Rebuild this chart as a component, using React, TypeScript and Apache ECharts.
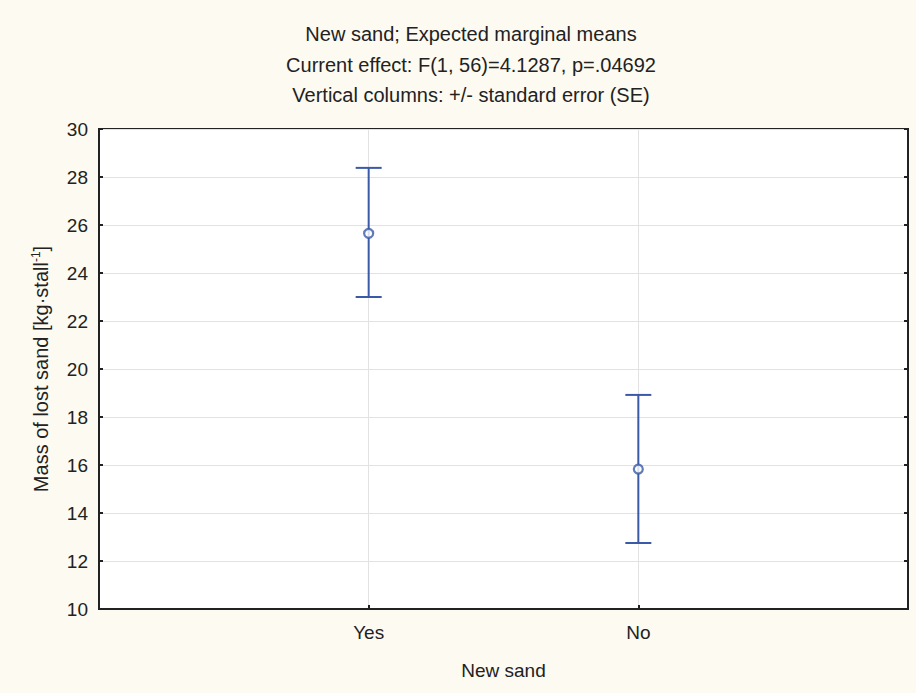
import React, { useEffect, useRef } from "react";
import * as echarts from "echarts";

const categories = ["Yes", "No"];
const means = [25.65, 15.83];
const lowerSE = [23.0, 12.75];
const upperSE = [28.38, 18.92];
const yTicks = [10, 30, 2]; // min, max, interval
const titleLines = [
  "New sand; Expected marginal means",
  "Current effect: F(1, 56)=4.1287, p=.04692",
  "Vertical columns: +/- standard error (SE)",
];

const FONT = "'Liberation Sans', Arial, sans-serif";
const BLUE = "#3a5aa8";
const TXT = "#222";

export default function App() {
  const ref = useRef<HTMLDivElement>(null);
  useEffect(() => {
    if (!ref.current) return;
    const chart = echarts.init(ref.current, null, { renderer: "svg" });
    const axisCats = ["", ...categories, ""];
    const errData = categories.map((c, i) => [c, lowerSE[i], upperSE[i]]);
    chart.setOption({
      animation: false,
      backgroundColor: "#fdfaf1",
      textStyle: { fontFamily: FONT },
      graphic: titleLines.map((t, i) => ({
        type: "text",
        x: 471,
        y: 34 + i * 30.5,
        style: {
          text: t,
          fontFamily: FONT,
          fontSize: 20,
          fill: TXT,
          textAlign: "center",
          textVerticalAlign: "middle",
        },
      })),
      grid: {
        left: 99,
        right: 8,
        top: 129,
        bottom: 84,
        show: true,
        backgroundColor: "#ffffff",
        borderColor: TXT,
        borderWidth: 2,
      },
      xAxis: {
        type: "category",
        data: axisCats,
        boundaryGap: false,
        name: "New sand",
        nameLocation: "middle",
        nameGap: 52,
        nameTextStyle: { fontSize: 19, color: TXT, fontFamily: FONT },
        axisLine: { lineStyle: { color: TXT, width: 2 } },
        axisTick: { inside: true, length: 4, lineStyle: { color: TXT, width: 2 } },
        axisLabel: { fontSize: 19, color: TXT, margin: 14, fontFamily: FONT },
        splitLine: { show: true, lineStyle: { color: "#e2e2e2", width: 1 } },
      },
      yAxis: [
        {
          type: "value",
          min: yTicks[0],
          max: yTicks[1],
          interval: yTicks[2],
          name: "{a|Mass of lost sand [kg·stall}{s|-1}{a|]}",
          nameLocation: "middle",
          nameGap: 47,
          nameTextStyle: {
            rich: {
              a: { fontSize: 20, color: TXT, fontFamily: FONT, lineHeight: 22 },
              s: { fontSize: 12, color: TXT, fontFamily: FONT, verticalAlign: "top", lineHeight: 22 },
            },
          },
          axisLine: { show: true, lineStyle: { color: TXT, width: 2 } },
          axisTick: { show: true, inside: true, length: 4, lineStyle: { color: TXT, width: 2 } },
          axisLabel: { fontSize: 19, color: TXT, margin: 11, fontFamily: FONT },
          splitLine: { show: true, lineStyle: { color: "#e2e2e2", width: 1 } },
        },
        {
          type: "value",
          position: "right",
          min: yTicks[0],
          max: yTicks[1],
          interval: yTicks[2],
          axisLine: { show: true, lineStyle: { color: TXT, width: 2 } },
          axisTick: { show: true, inside: true, length: 4, lineStyle: { color: TXT, width: 2 } },
          axisLabel: { show: false },
          splitLine: { show: false },
        },
      ],
      series: [
        {
          type: "custom",
          data: errData,
          renderItem: (params: any, api: any) => {
            const c = api.value(0);
            const lo = api.coord([c, api.value(1)]);
            const hi = api.coord([c, api.value(2)]);
            const hw = 13;
            const style = { stroke: BLUE, lineWidth: 2 };
            return {
              type: "group",
              children: [
                { type: "line", shape: { x1: lo[0], y1: lo[1], x2: hi[0], y2: hi[1] }, style },
                { type: "line", shape: { x1: lo[0] - hw, y1: lo[1], x2: lo[0] + hw, y2: lo[1] }, style },
                { type: "line", shape: { x1: hi[0] - hw, y1: hi[1], x2: hi[0] + hw, y2: hi[1] }, style },
              ],
            };
          },
          z: 3,
        },
        {
          type: "scatter",
          data: categories.map((c, i) => [c, means[i]]),
          symbol: "circle",
          symbolSize: 9,
          itemStyle: { color: "#ffffff", borderColor: BLUE, borderWidth: 2.2 },
          z: 4,
        },
      ],
    });
    return () => chart.dispose();
  }, []);
  return (
    <div
      ref={ref}
      style={{ position: "fixed", left: 0, top: 0, width: 916, height: 693 }}
    />
  );
}
